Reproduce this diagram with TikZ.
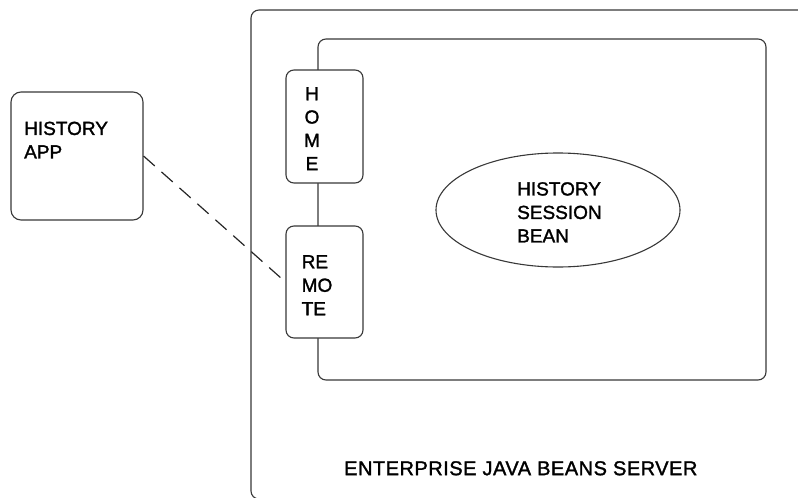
\documentclass[tikz,border=0pt]{standalone}
\usepackage{fontspec}
\setmainfont[FakeBold=1.5]{Liberation Sans}
\usetikzlibrary{shapes.geometric}

\tikzset{
  frame/.style={draw=black!78, line width=1.1pt, rounded corners=8pt},
  panel/.style={frame, fill=white, inner sep=0pt},
  lbl/.style={inner sep=0pt, align=left, font=\fontsize{19}{23.5}\selectfont},
  link/.style={draw=black!85, line width=1.2pt, dash pattern=on 15pt off 9pt},
}

\begin{document}
\begin{tikzpicture}[x=1pt, y=-1pt]
  \useasboundingbox (0,0) rectangle (798,498);
  \clip (0,0) rectangle (798,498);

  % server frame (runs off the right and bottom edge)
  \draw[frame] (251,10) rectangle (830,499);
  \node[lbl, anchor=north west, font=\fontsize{20}{24}\selectfont\addfontfeatures{LetterSpace=2.5}] (srvlabel) at (344,461) {ENTERPRISE JAVA BEANS SERVER};

  % bean container
  \draw[frame] (318,39) rectangle (766,380);

  % session bean
  \node[draw=black!78, line width=1.1pt, ellipse, minimum width=244pt, minimum height=114pt, inner sep=0pt] (bean) at (558,210) {};
  \node[lbl, anchor=north west] (beanlabel) at (517,182) {HISTORY\\SESSION\\BEAN};

  % home and remote interfaces
  \node[panel, minimum width=77pt, minimum height=113pt] (home) at (324.5,126.5) {};
  \node[lbl, align=center, anchor=north, font=\fontsize{19}{23.3}\selectfont] (homelabel) at (312,87) {H\\O\\M\\E};

  \node[panel, minimum width=77pt, minimum height=112pt] (remote) at (324.5,282) {};
  \node[lbl, anchor=north west] (remotelabel) at (301.5,255) {RE\\MO\\TE};

  % client application
  \node[panel, rounded corners=10pt, minimum width=132pt, minimum height=128pt] (app) at (77,156) {};
  \node[lbl, anchor=north west] (applabel) at (24,121.5) {HISTORY\\APP};

  % client call to the remote interface
  \draw[link] (app.east) -- (remote.west);
\end{tikzpicture}
\end{document}
